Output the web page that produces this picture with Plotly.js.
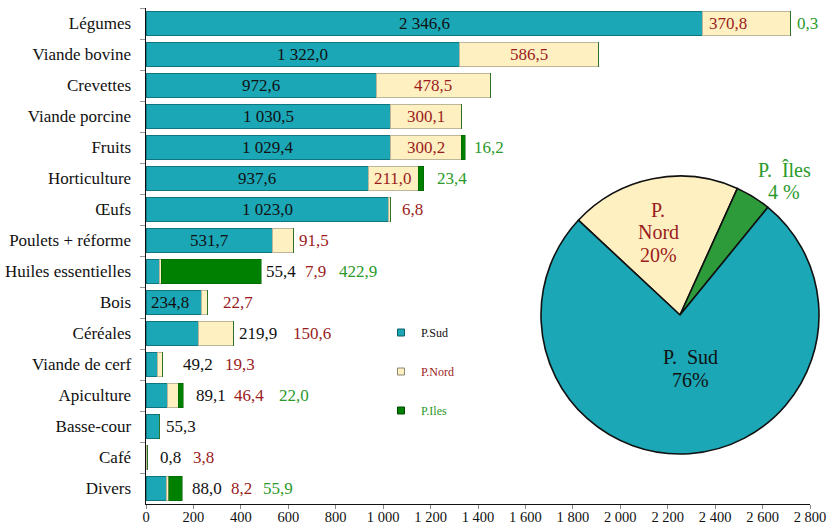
<!DOCTYPE html>
<html>
<head>
<meta charset="utf-8">
<script src="https://cdn.plot.ly/plotly-3.0.1.min.js"></script>
<style>html,body{margin:0;padding:0;background:#fff;}#chart{width:829px;height:526px;}</style>
</head>
<body>
<div id="chart"></div>
<script>
// ---- Data ----
const categories = ['Légumes','Viande bovine','Crevettes','Viande porcine','Fruits','Horticulture','Œufs','Poulets + réforme','Huiles essentielles','Bois','Céréales','Viande de cerf','Apiculture','Basse-cour','Café','Divers'];
const sud  = [2346.6,1322.0,972.6,1030.5,1029.4,937.6,1023.0,531.7,55.4,234.8,219.9,49.2,89.1,55.3,0.8,88.0];
const nord = [370.8,586.5,478.5,300.1,300.2,211.0,6.8,91.5,7.9,22.7,150.6,19.3,46.4,0,3.8,8.2];
const iles = [0.3,0,0,0,16.2,23.4,0,0,422.9,0,0,0,22.0,0,0,55.9];
const seriesNames = ['P.Sud','P.Nord','P.Iles'];
const pieNames = ['P. Nord','P. Îles','P. Sud'];
const xTickVals = [0,200,400,600,800,1000,1200,1400,1600,1800,2000,2200,2400,2600,2800];

// ---- Styling / label placement ----
const FONT = '"Liberation Serif", "Times New Roman", Times, serif';
const cSud = '#1BA7B6', cNord = '#FFF0C2', cIles = '#008000', cIlesPie = '#2E9B3A';
const tSud = '#111111', tNord = '#9B1C1C', tIles = '#2A9A2A';
const insideSud = [0,1,2,3,4,5,6,7,9];
const insideNord = [0,1,2,3,4,5];
const insideShift = {'0-1': -18, '9-0': -4};
const outsideShift = {0:[5],4:[7],5:[11],6:[10],7:[3],8:[3,42,76],9:[14],10:[3,57],11:[19,61],12:[11,49,94],13:[5],14:[11,44],15:[8,47,79]};

const W = 829, H = 526, ML = 146, MR = 0, MT = 8, MB = 22;
const PW = W - ML - MR, PH = H - MT - MB;
const px2x = p => (p - ML) / PW;
const px2y = p => (H - MB - p) / PH;

function fmt(v) {
  const s = v.toFixed(1).split('.');
  const i = s[0].replace(/\B(?=(\d{3})+(?!\d))/g, ' ');
  return i + ',' + s[1];
}

const traces = [
  {type:'bar', orientation:'h', y:categories, x:sud, name:seriesNames[0], marker:{color:cSud, line:{color:'#0F7580', width:1}}, showlegend:false, hoverinfo:'skip'},
  {type:'bar', orientation:'h', y:categories, x:nord, name:seriesNames[1], marker:{color:cNord, line:{color:'#BDB699', width:1}}, showlegend:false, hoverinfo:'skip'},
  {type:'bar', orientation:'h', y:categories, x:iles, name:seriesNames[2], marker:{color:cIles, line:{color:'#005A00', width:0.5}}, showlegend:false, hoverinfo:'skip'},
  // legend entries
  {type:'scatter', mode:'markers', x:[null], y:[null], name:seriesNames[0], legendgroup:'a', marker:{symbol:'square', size:7, color:cSud, line:{color:'#0F5F66', width:1}}},
  {type:'scatter', mode:'markers', x:[null], y:[null], name:'<span style="color:'+tNord+'">'+seriesNames[1]+'</span>', legendgroup:'b', marker:{symbol:'square', size:7, color:cNord, line:{color:'#8A8470', width:1}}},
  {type:'scatter', mode:'markers', x:[null], y:[null], name:'<span style="color:'+tIles+'">'+seriesNames[2]+'</span>', legendgroup:'c', marker:{symbol:'square', size:7, color:cIles, line:{color:'#004400', width:1}}}
];

// pie from sums
const sum = a => a.reduce((s,v)=>s+v,0);
const pieVals = [sum(nord), sum(iles), sum(sud)];
const pieTotal = sum(pieVals);
const pct = pieVals.map(v => Math.round(v / pieTotal * 100));
const cx = 680, cy = 315, R = 139;
traces.push({
  type:'pie', values:pieVals, labels:pieNames, sort:false, direction:'clockwise', rotation:-47,
  marker:{colors:[cNord, cIlesPie, cSud], line:{color:'#111', width:1.6}},
  textinfo:'none', hoverinfo:'skip', showlegend:false,
  domain:{x:[px2x(cx-R), px2x(cx+R)], y:[px2y(cy+R), px2y(cy-R)]}
});

const annotations = [];
// bar value labels
const series = [sud, nord, iles];
const tcol = [tSud, tNord, tIles];
categories.forEach((cat, r) => {
  const total = sud[r] + nord[r] + iles[r];
  let start = 0;
  const outs = [];
  series.forEach((s, k) => {
    const v = s[r];
    if (v > 0) {
      const inside = (k === 0 && insideSud.includes(r)) || (k === 1 && insideNord.includes(r));
      if (inside) {
        annotations.push({x:start + v/2, y:cat, xref:'x', yref:'y', text:fmt(v), showarrow:false, xanchor:'center', yanchor:'middle', xshift:insideShift[r+'-'+k] || 0, font:{family:FONT, size:17, color:tcol[k]}});
      } else {
        outs.push({v, k});
      }
    }
    start += v;
  });
  const shifts = outsideShift[r] || [];
  outs.forEach((o, j) => {
    annotations.push({x:total, y:cat, xref:'x', yref:'y', text:fmt(o.v), showarrow:false, xanchor:'left', yanchor:'middle', xshift:shifts[j] || 0, font:{family:FONT, size:17, color:tcol[o.k]}});
  });
});

// pie labels (one annotation per line)
const pieLabelLines = [
  {lines:['P.','Nord', pct[0] + '%'], x:658, y:[210,232,255], color:tNord},
  {lines:['P.\u00a0\u00a0Îles', pct[1] + '\u00a0%'], x:784, y:[170,192], color:tIles},
  {lines:['P.\u00a0\u00a0Sud', pct[2] + '%'], x:690, y:[357,380], color:tSud}
];
pieLabelLines.forEach(pl => {
  pl.lines.forEach((t, i) => {
    annotations.push({x:px2x(pl.x), y:px2y(pl.y[i]), xref:'paper', yref:'paper', text:t, showarrow:false, xanchor:'center', yanchor:'middle', font:{family:FONT, size:20, color:pl.color}});
  });
});

const layout = {
  width:W, height:H, margin:{l:ML, r:MR, t:MT, b:MB, pad:0},
  paper_bgcolor:'#fff', plot_bgcolor:'#fff',
  barmode:'stack', bargap:0.2,
  separators:', ',
  font:{family:FONT, color:'#111'},
  xaxis:{domain:[0, 664/PW], range:[0,2800], tickvals:xTickVals, tickformat:',d', showgrid:false, zeroline:false,
         showline:true, linecolor:'#111', linewidth:1, ticks:'outside', ticklen:4, tickcolor:'#888', ticklabelstandoff:-4,
         tickfont:{family:FONT, size:14.5, color:'#111'}, automargin:false, fixedrange:true},
  yaxis:{type:'category', categoryorder:'array', categoryarray:categories, autorange:'reversed',
         showgrid:false, zeroline:false, showline:true, linecolor:'#111', linewidth:1.5,
         ticks:'outside', tickson:'boundaries', ticklen:5, tickcolor:'#999', ticklabelstandoff:10,
         tickfont:{family:FONT, size:17, color:'#111'}, automargin:false, fixedrange:true},
  showlegend:true,
  legend:{x:px2x(381), y:px2y(318), xanchor:'left', yanchor:'top', bgcolor:'rgba(0,0,0,0)', borderwidth:0,
          font:{family:FONT, size:12, color:'#111'}, tracegroupgap:20, traceorder:'grouped', itemwidth:30},
  annotations:annotations
};

Plotly.newPlot('chart', traces, layout, {displayModeBar:false, staticPlot:true});
</script>
</body>
</html>
